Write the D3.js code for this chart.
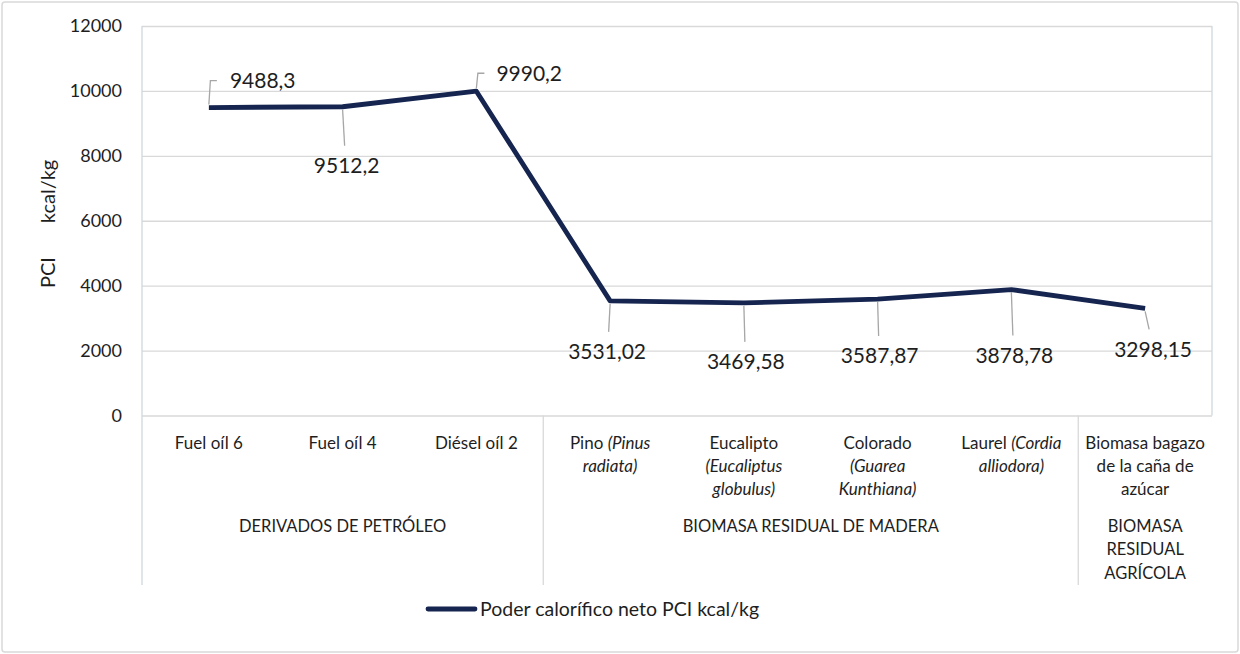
<!DOCTYPE html>
<html>
<head>
<meta charset="utf-8">
<script src="https://cdn.jsdelivr.net/npm/d3@7"></script>
<style>
  body { margin: 0; background: #fff; }
  text { font-family: Lato, "Open Sans", sans-serif; fill: #1e1e1e; }
</style>
</head>
<body>
<div id="container"></div>
<script>
    // Categories (lines of each label, *...* = italic)
    const categories = [
        ["Fuel oíl 6"],
        ["Fuel oíl 4"],
        ["Diésel oíl 2"],
        ["Pino *(Pinus*", "*radiata)*"],
        ["Eucalipto", "*(Eucaliptus*", "*globulus)*"],
        ["Colorado", "*(Guarea*", "*Kunthiana)*"],
        ["Laurel *(Cordia*", "*alliodora)*"],
        ["Biomasa bagazo", "de la caña de", "azúcar"]
    ];

    // Series values
    const values = [9488.3, 9512.2, 9990.2, 3531.02, 3469.58, 3587.87, 3878.78, 3298.15];
    const valueLabels = ["9488,3", "9512,2", "9990,2", "3531,02", "3469,58", "3587,87", "3878,78", "3298,15"];

    // Groups: label lines, first and last category index
    const groups = [
        { lines: ["DERIVADOS DE PETRÓLEO"], from: 0, to: 2 },
        { lines: ["BIOMASA RESIDUAL DE MADERA"], from: 3, to: 6 },
        { lines: ["BIOMASA", "RESIDUAL", "AGRÍCOLA"], from: 7, to: 7 }
    ];

    const yTicks = [0, 2000, 4000, 6000, 8000, 10000, 12000];
    const seriesName = "Poder calorífico neto PCI kcal/kg";

    const width = 1240, height = 654;
    const plotLeft = 142, plotRight = 1212, plotTop = 26, plotBottom = 415.5;
    const lineColor = "#15254f";

    // label placement (pixels from point): [dx, dy, above?]
    const labelPlace = [[21, -27, true], [4, 59, false], [20, -18, true], [-3, 51, false],
                        [2, 59, false], [2, 57, false], [3, 66, false], [8, 41, false]];

    const svg = d3.select("#container")
                    .append("svg")
                    .attr("width", width)
                    .attr("height", height);

    // outer frame
    svg.append("rect")
        .attr("x", 2).attr("y", 2)
        .attr("width", width - 4).attr("height", height - 4)
        .attr("rx", 3)
        .attr("fill", "#fff")
        .attr("stroke", "#d9d9d9")
        .attr("stroke-width", 1.5);

    // Scales
    const x = d3.scaleBand()
                .domain(d3.range(categories.length))
                .range([plotLeft, plotRight])
                .padding(0);
    const y = d3.scaleLinear().domain([0, 12000]).range([plotBottom, plotTop]);
    const cx = i => x(i) + x.bandwidth() / 2;

    // Gridlines + y axis labels
    svg.append("g")
        .attr("transform", "translate(" + plotLeft + ",0)")
        .call(d3.axisLeft(y).tickValues(yTicks).tickSize(-(plotRight - plotLeft)).tickPadding(20).tickFormat(d => d))
        .call(g => g.select(".domain").remove())
        .call(g => g.selectAll(".tick line").attr("stroke", "#d9d9d9").attr("stroke-width", 1.3))
        .call(g => g.selectAll(".tick text")
                    .attr("font-size", "18px")
                    .attr("font-family", "Lato, sans-serif")
                    .attr("fill", "#1e1e1e"));

    // Plot borders and category dividers
    const border = "#d0d7de";
    svg.append("line").attr("x1", plotLeft).attr("x2", plotLeft).attr("y1", plotTop).attr("y2", 585)
        .attr("stroke", border).attr("stroke-width", 1.3);
    svg.append("line").attr("x1", plotRight).attr("x2", plotRight).attr("y1", plotTop).attr("y2", plotBottom)
        .attr("stroke", border).attr("stroke-width", 1.3);
    groups.slice(1).forEach(gp => {
        svg.append("line")
            .attr("x1", x(gp.from)).attr("x2", x(gp.from))
            .attr("y1", plotBottom).attr("y2", 585)
            .attr("stroke", "#d9d9d9").attr("stroke-width", 1.3);
    });

    // Category labels
    function addLine(sel, str) {
        str.split(/(\*[^*]+\*)/).filter(s => s.length).forEach(part => {
            const it = part.startsWith("*");
            sel.append("tspan")
                .attr("font-style", it ? "italic" : "normal")
                .text(it ? part.slice(1, -1) : part);
        });
    }
    categories.forEach((lines, i) => {
        lines.forEach((ln, j) => {
            const t = svg.append("text")
                .attr("x", cx(i))
                .attr("y", 443 + j * 23)
                .attr("dy", "0.35em")
                .attr("text-anchor", "middle")
                .attr("font-size", "17px");
            addLine(t, ln);
        });
    });

    // Group labels
    groups.forEach(gp => {
        const mid = (x(gp.from) + x(gp.to) + x.bandwidth()) / 2;
        gp.lines.forEach((ln, j) => {
            svg.append("text")
                .attr("x", mid)
                .attr("y", 526 + j * 23.5)
                .attr("dy", "0.35em")
                .attr("text-anchor", "middle")
                .attr("font-size", "16.5px")
                .text(ln);
        });
    });

    // Y axis title
    svg.append("text")
        .attr("transform", "translate(55,288) rotate(-90)")
        .attr("font-size", "20px")
        .call(t => t.append("tspan").text("PCI"))
        .call(t => t.append("tspan").attr("dx", 34).text("kcal/kg"));

    // Leader lines
    const leaders = svg.append("g").attr("stroke", "#a6a6a6").attr("stroke-width", 1.3).attr("fill", "none");
    values.forEach((v, i) => {
        const px = cx(i), py = y(v);
        const [dx, dy, above] = labelPlace[i];
        if (above) {
            leaders.append("path")
                .attr("d", d3.line()([[px, py - 3], [px + 1.5, py + dy], [px + 8, py + dy]]));
        } else {
            leaders.append("path")
                .attr("d", d3.line()([[px, py + 3], [px + dx / 2, py + dy - 20]]));
        }
    });

    // Series line
    svg.append("path")
        .datum(values)
        .attr("fill", "none")
        .attr("stroke", lineColor)
        .attr("stroke-width", 4.8)
        .attr("stroke-linejoin", "round")
        .attr("d", d3.line().x((d, i) => cx(i)).y(d => y(d)));

    // Data labels
    values.forEach((v, i) => {
        const [dx, dy, above] = labelPlace[i];
        svg.append("text")
            .attr("x", cx(i) + dx)
            .attr("y", y(v) + dy)
            .attr("dy", "0.35em")
            .attr("text-anchor", above ? "start" : "middle")
            .attr("font-size", "21px")
            .attr("fill", "#111")
            .text(valueLabels[i]);
    });

    // Legend
    svg.append("line")
        .attr("x1", 428).attr("x2", 475)
        .attr("y1", 609).attr("y2", 609)
        .attr("stroke", lineColor)
        .attr("stroke-width", 4.8)
        .attr("stroke-linecap", "round");
    svg.append("text")
        .attr("x", 480)
        .attr("y", 609)
        .attr("dy", "0.35em")
        .attr("font-size", "19.5px")
        .text(seriesName);
</script>
</body>
</html>
